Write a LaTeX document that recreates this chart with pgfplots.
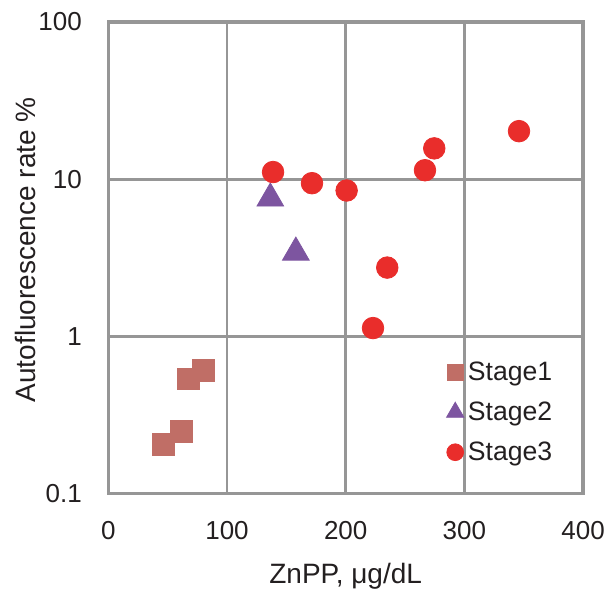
\documentclass[border=0pt]{standalone}
\usepackage{pgfplots}
\pgfplotsset{compat=1.18}
\usepackage{fontspec}
\setmainfont{Liberation Sans}
\definecolor{sone}{RGB}{192,110,102}
\definecolor{stwo}{RGB}{125,85,160}
\definecolor{sthree}{RGB}{233,45,43}
\definecolor{gridc}{RGB}{150,150,150}
\definecolor{txt}{RGB}{35,31,32}
\pgfplotsset{smallmark/.style={legend image code/.code={\draw[##1, mark size=#1] plot coordinates {(0cm,0cm)};}}}
\begin{document}
\begin{tikzpicture}
\begin{axis}[
  scale only axis,
  width=237.4pt, height=235.9pt,
  xmin=0, xmax=400, ymin=0.1, ymax=100,
  ymode=log,
  xtick={0,100,200,300,400},
  ytick={0.1,1,10,100},
  yticklabels={0.1,1,10,100},
  minor ytick={},
  tick style={draw=none},
  major tick length=0pt, minor tick length=0pt,
  grid=major,
  grid style={gridc, line width=1.4pt},
  axis line style={gridc, line width=1.7pt},
  /pgf/number format/assume math mode=true,
  tick label style={font=\fontsize{13}{15}\selectfont, text=txt},
  xticklabel style={yshift=-10.5pt},
  yticklabel style={xshift=-9.7pt},
  label style={font=\fontsize{14}{16}\selectfont, text=txt},
  xlabel={ZnPP, μg/dL},
  ylabel={Autofluorescence rate \%},
  xlabel style={at={(axis description cs:0.5,0)}, anchor=center, yshift=-41.5pt},
  ylabel style={at={(axis description cs:0,0.517)}, anchor=center, yshift=41.5pt},
  legend style={draw=none, fill=none, at={(0.699,0.298)}, anchor=north west,
    font=\fontsize{13.3}{15}\selectfont, row sep=5.2pt, text=txt},
  legend cell align=left,
  clip=false,
]
\addplot[only marks, mark=square*, mark size=5.4pt, color=sone, smallmark=4pt] coordinates {
  (67.3,0.538) (80.1,0.609) (46.5,0.205) (61.7,0.248)
};
\addlegendentry{Stage1}
\addplot[only marks, mark=triangle*, mark size=7.7pt, color=stwo, smallmark=5pt] coordinates {
  (136.5,7.55) (158,3.42)
};
\addlegendentry{Stage2}
\addplot[only marks, mark=*, mark size=5.4pt, color=sthree, smallmark=4.2pt] coordinates {
  (138.8,11.1) (171.6,9.43) (200.8,8.47) (266.8,11.4) (274.6,15.7)
  (346,20.2) (235,2.74) (223,1.13)
};
\addlegendentry{Stage3}
\end{axis}
\path (current axis.south west) ++(-54.15pt,-48.15pt) coordinate (bl);
\path (current axis.south west) ++(249.35pt,246.85pt) coordinate (tr);
\pgfresetboundingbox
\path (bl) rectangle (tr);
\end{tikzpicture}
\end{document}
